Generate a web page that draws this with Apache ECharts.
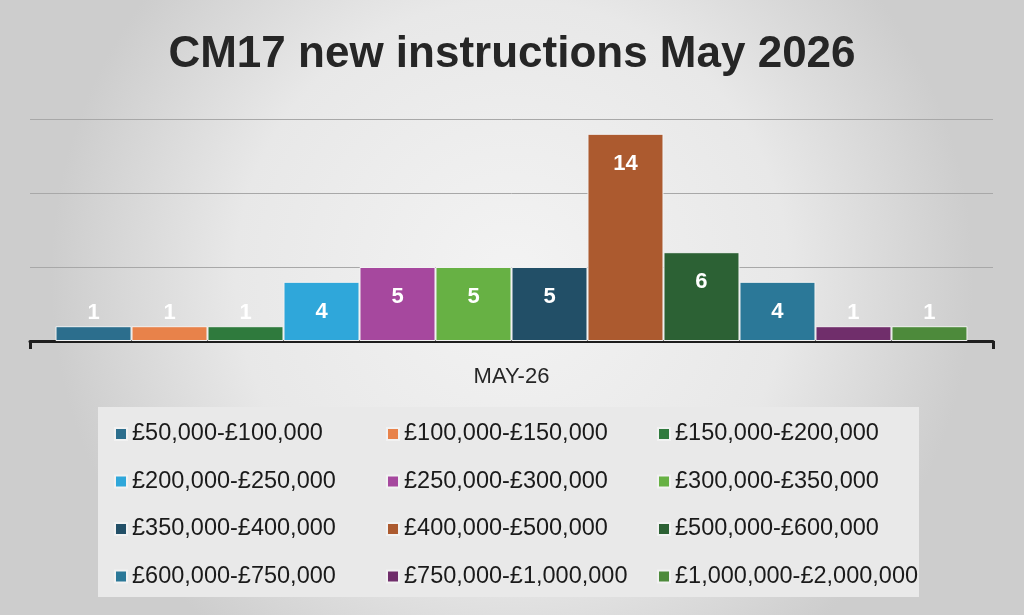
<!DOCTYPE html>
<html>
<head>
<meta charset="utf-8">
<script src="https://cdn.jsdelivr.net/npm/echarts@6/dist/echarts.min.js"></script>
<style>
html,body{margin:0;padding:0;}
#chart{width:1024px;height:615px;}
</style>
</head>
<body>
<div id="chart"></div>
<script>
const titleText = 'CM17 new instructions May 2026';
const categories = ['MAY-26'];
const seriesNames = [
  '£50,000-£100,000', '£100,000-£150,000', '£150,000-£200,000',
  '£200,000-£250,000', '£250,000-£300,000', '£300,000-£350,000',
  '£350,000-£400,000', '£400,000-£500,000', '£500,000-£600,000',
  '£600,000-£750,000', '£750,000-£1,000,000', '£1,000,000-£2,000,000'
];
const seriesValues = [1, 1, 1, 4, 5, 5, 5, 14, 6, 4, 1, 1];
const seriesColors = [
  '#2c6e8d', '#e8824a', '#2f7a3d', '#2fa7da', '#a6489e', '#67b144',
  '#224f67', '#ac5a2f', '#2c6134', '#2b7898', '#702e6b', '#4d8a3b'
];

const chart = echarts.init(document.getElementById('chart'));

const series = seriesNames.map((name, i) => ({
  name: name,
  type: 'bar',
  data: [seriesValues[i]],
  barGap: '0%',
  barCategoryGap: '5.3%',
  itemStyle: { color: seriesColors[i], borderColor: '#f2f2f2', borderWidth: 1 },
  label: {
    show: true,
    position: seriesValues[i] <= 1 ? 'top' : 'insideTop',
    distance: seriesValues[i] <= 1 ? 2 : 19,
    color: '#ffffff',
    fontFamily: 'Liberation Sans, Arial, sans-serif',
    fontWeight: 'bold',
    fontSize: 22
  }
}));

function legendCol(col, left) {
  return {
    orient: 'vertical',
    left: left,
    top: 417,
    itemWidth: 12,
    itemHeight: 12,
    itemGap: 23.5,
    icon: 'rect',
    data: seriesNames.filter((_, i) => i % 3 === col),
    textStyle: {
      fontFamily: 'Liberation Sans, Arial, sans-serif',
      fontSize: 23.5,
      color: '#1a1a1a',
      lineHeight: 24,
      padding: [0, 0, 0, 0]
    },
    selectedMode: false
  };
}

chart.setOption({
  backgroundColor: {
    type: 'radial', x: 0.5, y: 0.45, r: 0.75,
    colorStops: [
      { offset: 0, color: '#f3f3f3' },
      { offset: 0.6, color: '#e8e8e8' },
      { offset: 1, color: '#cdcdcd' }
    ]
  },
  title: {
    text: titleText,
    left: 'center',
    top: 28,
    textStyle: {
      fontFamily: 'Liberation Sans, Arial, sans-serif',
      fontWeight: 'bold',
      fontSize: 44,
      color: '#262626'
    }
  },
  graphic: [{
    type: 'rect',
    shape: { x: 98, y: 407, width: 821, height: 190 },
    style: { fill: '#e9e9e9' },
    z: -1
  }],
  legend: [legendCol(0, 109), legendCol(1, 381), legendCol(2, 652)],
  grid: { left: 30, right: 31, top: 119, bottom: 274 },
  xAxis: {
    type: 'category',
    data: categories,
    axisLine: { show: true, lineStyle: { color: '#1e1e1e', width: 3 } },
    axisTick: { show: true, length: 8, lineStyle: { color: '#1e1e1e', width: 3 } },
    axisLabel: {
      margin: 25,
      fontFamily: 'Liberation Sans, Arial, sans-serif',
      fontSize: 22,
      color: '#262626'
    }
  },
  yAxis: {
    type: 'value',
    min: 0,
    max: 15,
    interval: 5,
    axisLabel: { show: false },
    axisLine: { show: false },
    axisTick: { show: false },
    splitLine: { show: true, lineStyle: { color: '#a8a8a8', width: 1 } }
  },
  series: series
});
</script>
</body>
</html>
